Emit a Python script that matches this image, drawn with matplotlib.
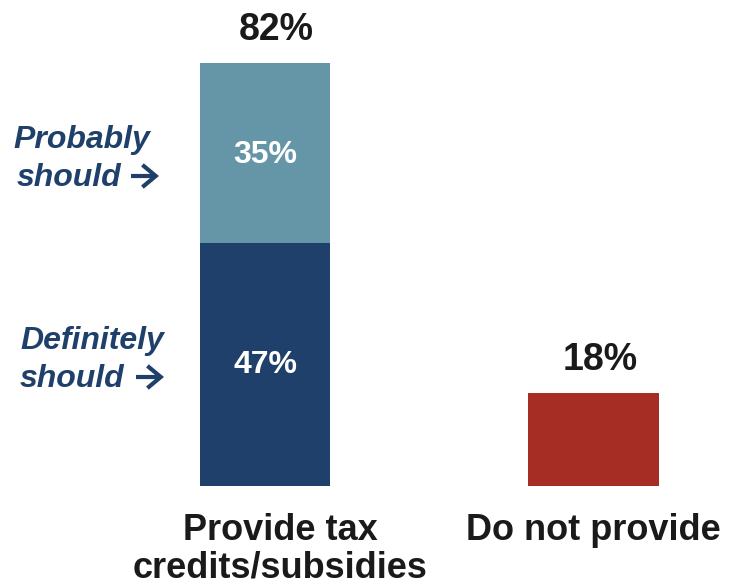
import matplotlib
matplotlib.use("Agg")
import matplotlib.pyplot as plt
from matplotlib.transforms import blended_transform_factory

categories = ["Provide tax\ncredits/subsidies", "Do not provide"]
definitely = [47, 0]
probably = [35, 0]
not_provide = [0, 18]
totals = [82, 18]
seg_first = ["Definitely", "Probably"]
seg_second = "should"

C_LIGHT = "#6596A8"
C_DARK = "#1F406A"
C_RED = "#A52D23"
TXT = "#1A1A1A"
FAM = ["Liberation Sans", "DejaVu Sans"]

fig = plt.figure(figsize=(7.29, 5.88), dpi=100)
ax = fig.add_axes([0, 102 / 588, 1, 486 / 588])
xs = [0, 1]
w = 0.396
ax.bar(xs[0], definitely[0], width=w, color=C_DARK)
ax.bar(xs[0], probably[0], bottom=definitely[0], width=w, color=C_LIGHT)
ax.bar(xs[1], not_provide[1], width=w, color=C_RED)

X0 = -265 / 328.5
ax.set_xlim(X0, (729 - 265) / 328.5)
ax.set_ylim(0, 486 / 5.16)


def px2x(px):
    return X0 + px / 328.5


def py2y(py):
    return (486 - py) / 5.16


# inner labels
ax.text(xs[0], definitely[0] / 2, f"{definitely[0]}%", ha="center", va="center",
        color="white", fontsize=23, fontweight="bold", family=FAM)
ax.text(xs[0], definitely[0] + probably[0] / 2 - 0.4, f"{probably[0]}%", ha="center", va="center",
        color="white", fontsize=23, fontweight="bold", family=FAM)
# totals
ax.text(xs[0] + 0.035, totals[0] + 6.4, f"{totals[0]}%", ha="center", va="center",
        color=TXT, fontsize=27, fontweight="bold", family=FAM)
ax.text(xs[1] + 0.02, totals[1] + 6.4, f"{totals[1]}%", ha="center", va="center",
        color=TXT, fontsize=27, fontweight="bold", family=FAM)

# side labels (left px positions, center y px, arrow span)
side = [
    (seg_first[1], 13, 140, 17, 178, 131, 159),
    (seg_first[0], 20, 341, 20, 379, 136, 164),
]
for first, x1, y1, x2, y2, a0, a1 in side:
    ax.text(px2x(x1), py2y(y1), first, ha="left", va="center", color=C_DARK,
            fontsize=23, fontweight="bold", style="italic", family=FAM)
    ax.text(px2x(x2), py2y(y2), seg_second, ha="left", va="center", color=C_DARK,
            fontsize=23, fontweight="bold", style="italic", family=FAM)
    ax.annotate("", xy=(px2x(a1), py2y(y2 - 2)), xytext=(px2x(a0), py2y(y2 - 2)),
                arrowprops=dict(arrowstyle="->,head_length=0.48,head_width=0.4",
                                mutation_scale=20, lw=3.0, color=C_DARK,
                                shrinkA=0, shrinkB=0, joinstyle="miter",
                                capstyle="butt"))

# category labels
trans = blended_transform_factory(ax.transData, fig.transFigure)
cat_x = [xs[0] + 15 / 328.5, xs[1]]
for cx, lab in zip(cat_x, categories):
    ax.text(cx, 1 - 513 / 588, lab, transform=trans, ha="center", va="top",
            fontsize=26, fontweight="bold", color=TXT, family=FAM, linespacing=1.1)

ax.set_xticks([])
ax.set_yticks([])
for s in ax.spines.values():
    s.set_visible(False)

fig.savefig("out.png", dpi=100)
